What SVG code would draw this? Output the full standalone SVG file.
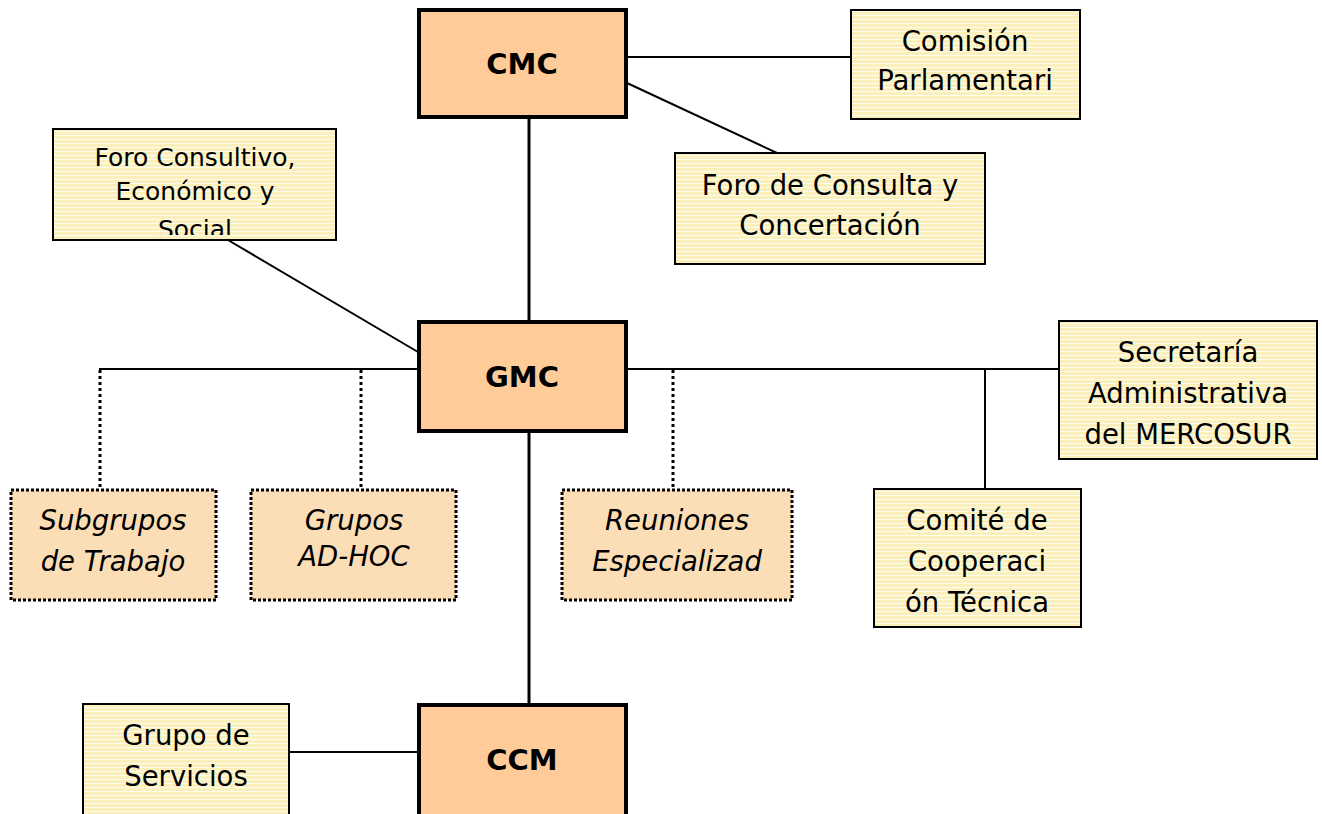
<svg xmlns="http://www.w3.org/2000/svg" width="1322" height="814" viewBox="0 0 1322 814">
<defs>
<pattern id="stripes" width="8" height="4" patternUnits="userSpaceOnUse">
<rect width="8" height="4" fill="#FBF0BC"/>
<rect y="3" width="8" height="1" fill="#FFFDF0"/>
</pattern>
<clipPath id="cpCom"><rect x="851" y="10" width="229" height="109"/></clipPath>
<clipPath id="cpFcc"><rect x="675" y="153" width="310" height="111"/></clipPath>
<clipPath id="cpFce"><rect x="53" y="129" width="283" height="106"/></clipPath>
</defs>
<style>
.main{fill:#FFCC99;stroke:#000;stroke-width:4}
.note{fill:url(#stripes);stroke:#000;stroke-width:2}
.dot{fill:#FBDDB6;stroke:#000;stroke-width:3;stroke-dasharray:3 2}
.t{font-family:"DejaVu Sans",sans-serif;font-size:27.5px;fill:#000;text-anchor:middle}
.ts{font-family:"DejaVu Sans",sans-serif;font-size:25px;fill:#000;text-anchor:middle}
.ti{font-family:"DejaVu Sans",sans-serif;font-size:27.5px;font-style:italic;fill:#000;text-anchor:middle}
.tb{font-family:"DejaVu Sans",sans-serif;font-size:29px;font-weight:bold;fill:#000;text-anchor:middle}
.c{stroke:#000;stroke-width:2;fill:none}
.cm{stroke:#000;stroke-width:3;fill:none}
.cd{stroke:#000;stroke-width:3;stroke-dasharray:3 3;fill:none}
</style>
<g id="connectors">
<line class="cm" x1="529" y1="118" x2="529" y2="321"/>
<line class="cm" x1="529" y1="432" x2="529" y2="704"/>
<line class="c" x1="627" y1="57" x2="851" y2="57"/>
<line class="c" x1="627" y1="83" x2="777" y2="153"/>
<line class="c" x1="228" y1="240" x2="418" y2="352"/>
<line class="c" x1="99" y1="369" x2="418" y2="369"/>
<line class="c" x1="627" y1="369" x2="1059" y2="369"/>
<line class="c" x1="985" y1="369" x2="985" y2="489"/>
<line class="cd" x1="100" y1="370" x2="100" y2="489"/>
<line class="cd" x1="361" y1="370" x2="361" y2="489"/>
<line class="cd" x1="673" y1="370" x2="673" y2="489"/>
<line class="c" x1="289" y1="752" x2="418" y2="752"/>
</g>
<g id="cmc">
<rect class="main" x="419" y="10" width="207" height="107"/>
<text class="tb" x="522" y="74">CMC</text>
</g>
<g id="gmc">
<rect class="main" x="419" y="322" width="207" height="109"/>
<text class="tb" x="522" y="387">GMC</text>
</g>
<g id="ccm">
<rect class="main" x="419" y="705" width="207" height="113"/>
<text class="tb" x="522" y="770">CCM</text>
</g>
<g id="comision">
<rect class="note" x="851" y="10" width="229" height="109"/>
<g clip-path="url(#cpCom)">
<text class="t" x="965" y="51">Comisión</text>
<text class="t" x="965" y="90">Parlamentari</text>
</g>
</g>
<g id="foro-consulta">
<rect class="note" x="675" y="153" width="310" height="111"/>
<g clip-path="url(#cpFcc)">
<text class="t" x="830" y="195">Foro de Consulta y</text>
<text class="t" x="830" y="235">Concertación</text>
</g>
</g>
<g id="foro-consultivo">
<rect class="note" x="53" y="129" width="283" height="111"/>
<g clip-path="url(#cpFce)">
<text class="ts" x="195" y="166">Foro Consultivo,</text>
<text class="ts" x="195" y="200">Económico y</text>
<text class="ts" x="195" y="238">Social</text>
</g>
</g>
<g id="subgrupos">
<rect class="dot" x="11" y="490" width="205" height="110"/>
<text class="ti" x="113" y="530">Subgrupos</text>
<text class="ti" x="113" y="571">de Trabajo</text>
</g>
<g id="grupos-adhoc">
<rect class="dot" x="251" y="490" width="205" height="110"/>
<text class="ti" x="354" y="530">Grupos</text>
<text class="ti" x="354" y="566">AD-HOC</text>
</g>
<g id="reuniones">
<rect class="dot" x="562" y="490" width="230" height="110"/>
<text class="ti" x="677" y="530">Reuniones</text>
<text class="ti" x="677" y="571">Especializad</text>
</g>
<g id="secretaria">
<rect class="note" x="1059" y="321" width="258" height="138"/>
<text class="t" x="1188" y="362">Secretaría</text>
<text class="t" x="1188" y="403">Administrativa</text>
<text class="t" x="1188" y="444">del MERCOSUR</text>
</g>
<g id="comite">
<rect class="note" x="874" y="489" width="207" height="138"/>
<text class="t" x="977" y="530">Comité de</text>
<text class="t" x="977" y="571">Cooperaci</text>
<text class="t" x="977" y="612">ón Técnica</text>
</g>
<g id="grupo-servicios">
<rect class="note" x="83" y="704" width="206" height="116"/>
<text class="t" x="186" y="745">Grupo de</text>
<text class="t" x="186" y="786">Servicios</text>
</g>
</svg>
